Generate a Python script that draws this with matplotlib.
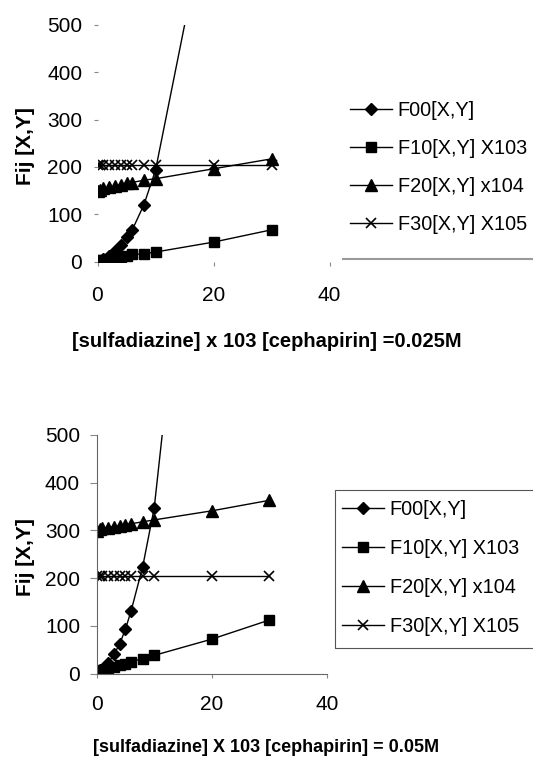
import matplotlib.pyplot as plt
from matplotlib.lines import Line2D
from matplotlib.patches import Rectangle

plt.rcParams['font.family'] = ['Liberation Sans', 'DejaVu Sans']

# concentrations of sulfadiazine (x 10^3)
x = [0, 0.5, 1, 2, 3, 4, 5, 6, 8, 10, 20, 30]
x00 = [0, 0.5, 1, 2, 3, 4, 5, 6, 8, 10, 20]

# [cephapirin] = 0.025M
top_f00 = [0, 2, 5, 12, 22, 34, 51, 67, 120, 193, 805]
top_f10 = [2, 3, 4, 6, 8, 10, 12, 15, 16, 20, 41, 67]
top_f20 = [150, 152, 155, 157, 160, 162, 165, 167, 172, 175, 196, 217]
top_f30 = [205, 205, 205, 205, 205, 205, 205, 205, 205, 205, 205, 205]

# [cephapirin] = 0.05M
bot_f00 = [5, 7, 10, 22, 40, 62, 93, 132, 224, 347, 1450]
bot_f10 = [5, 6, 8, 11, 14, 17, 20, 25, 31, 38, 72, 112]
bot_f20 = [299, 302, 304, 306, 308, 310, 312, 314, 318, 322, 341, 363]
bot_f30 = [205, 205, 205, 205, 205, 205, 205, 205, 205, 205, 205, 205]

labels = ["F00[X,Y]", "F10[X,Y] X103", "F20[X,Y] x104", "F30[X,Y] X105"]
xticks = [0, 20, 40]
yticks = [0, 100, 200, 300, 400, 500]

W, H = 533, 758
fig = plt.figure(figsize=(5.33, 7.58), dpi=100)
ax1 = fig.add_axes([97.5 / W, 1 - 261.5 / H, 232 / W, 236.5 / H])
ax2 = fig.add_axes([96.7 / W, 1 - 673.5 / H, 230 / W, 238.5 / H])


def draw(ax, f00, f10, f20, f30):
    ax.plot(x00, f00, color='black', lw=1, marker='D', ms=6.5, label=labels[0])
    ax.plot(x, f10, color='black', lw=1, marker='s', ms=6.5, label=labels[1])
    ax.plot(x, f20, color='black', lw=1, marker='^', ms=8, label=labels[2])
    ax.plot(x, f30, color='black', lw=1, marker='x', ms=7.5, mew=1.2, label=labels[3])
    ax.set_xlim(0, 40)
    ax.set_ylim(0, 500)
    ax.set_xticks(xticks)
    ax.set_yticks(yticks)
    ax.tick_params(labelsize=15, direction='out', length=3, color='#888888')
    ax.set_facecolor('none')


draw(ax1, top_f00, top_f10, top_f20, top_f30)
for s in ax1.spines.values():
    s.set_visible(False)
ax1.tick_params(axis='x', pad=14.5)
ax1.tick_params(axis='y', pad=8)

draw(ax2, bot_f00, bot_f10, bot_f20, bot_f30)
ax2.spines['top'].set_visible(False)
ax2.spines['right'].set_visible(False)
ax2.spines['left'].set_color('#666666')
ax2.spines['bottom'].set_color('#666666')
ax2.spines['left'].set_linewidth(0.8)
ax2.spines['bottom'].set_linewidth(0.8)
ax2.tick_params(axis='y', length=5, pad=7)
ax2.tick_params(axis='x', pad=12.5)

leg_kw = dict(loc='upper left', bbox_transform=fig.transFigure, frameon=False,
              fontsize=14.3, handlelength=2.1, handletextpad=0.3, borderaxespad=0)
ax1.legend(bbox_to_anchor=(342 / W, 1 - 93 / H), labelspacing=0.95, **leg_kw)
fig.add_artist(Line2D([343 / W, 1.0], [1 - 259 / H, 1 - 259 / H],
                      color='#999999', lw=1.5, transform=fig.transFigure))

ax2.legend(bbox_to_anchor=(334 / W, 1 - 492 / H), labelspacing=1.0, **leg_kw)
fig.add_artist(Rectangle((335 / W, 1 - 648 / H), 0.5, 158 / H, fill=False,
                         edgecolor='#555555', lw=0.8, transform=fig.transFigure))

fig.text(25.5 / W, 1 - 146 / H, "Fij [X,Y]", rotation=90, ha='center', va='center',
         fontsize=15, fontweight='bold')
fig.text(25.5 / W, 1 - 557 / H, "Fij [X,Y]", rotation=90, ha='center', va='center',
         fontsize=15, fontweight='bold')
fig.text(267 / W, 1 - 341 / H, "[sulfadiazine] x 103 [cephapirin] =0.025M",
         ha='center', va='center', fontsize=14.5, fontweight='bold')
fig.text(266 / W, 1 - 747 / H, "[sulfadiazine] X 103 [cephapirin] = 0.05M",
         ha='center', va='center', fontsize=13, fontweight='bold')

fig.savefig("out.png", dpi=100)
